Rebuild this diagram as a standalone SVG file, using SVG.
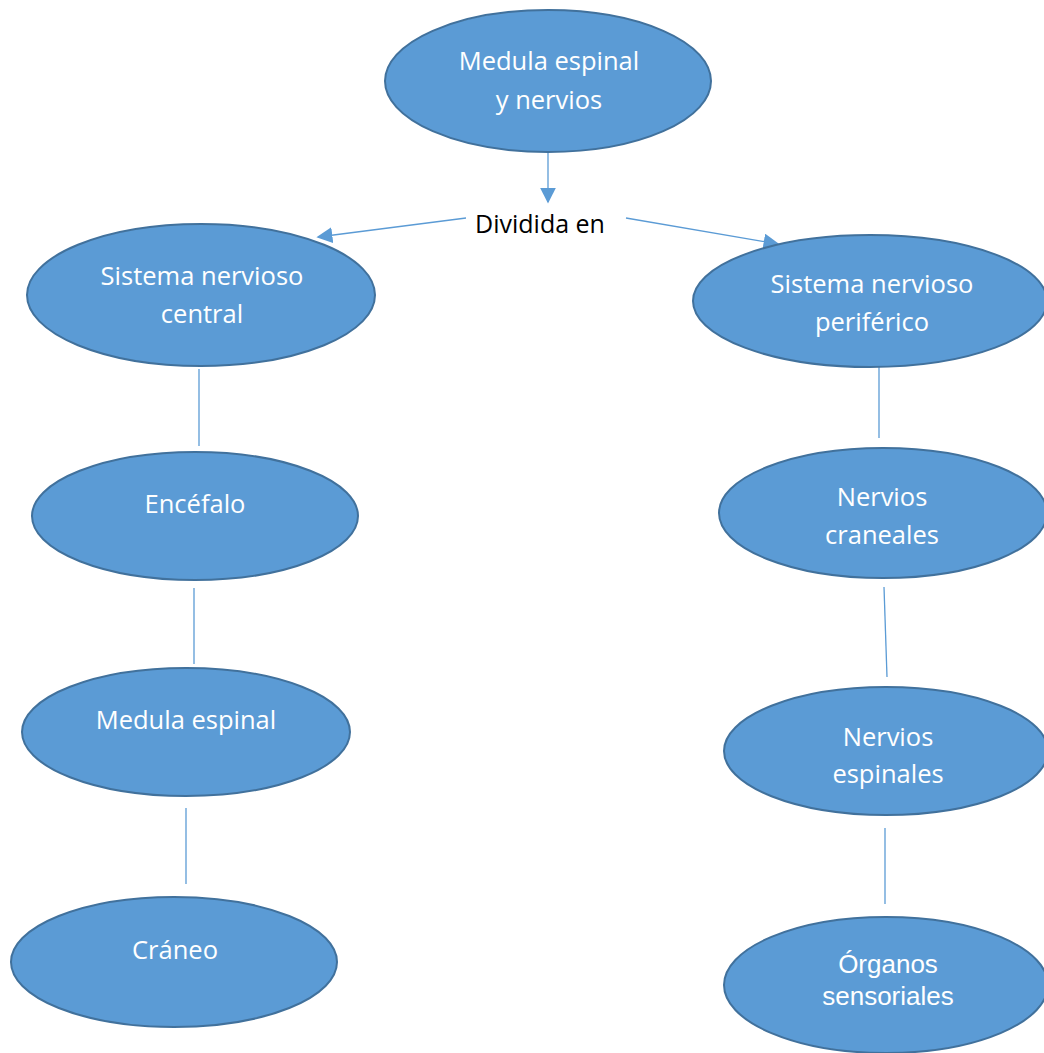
<svg xmlns="http://www.w3.org/2000/svg" width="1044" height="1053" viewBox="0 0 1044 1053">
<style>
.node ellipse{fill:#5B9BD5;stroke:#41719C;stroke-width:2}
.node text{fill:#FFFFFF;font-family:"Open Sans","Liberation Sans",sans-serif;font-size:25.5px;text-anchor:middle}
.node text.arial{font-family:"Liberation Sans",Arial,sans-serif;font-size:26px}
.conn line{stroke:#5B9BD5;stroke-width:1.3;fill:none}
.label{fill:#000000;font-family:"Open Sans","Liberation Sans",sans-serif;font-size:25px;text-anchor:middle}
</style>
<defs>
<marker id="arrL" viewBox="0 0 10 10" refX="9" refY="5" markerWidth="16" markerHeight="16" markerUnits="userSpaceOnUse" orient="auto">
<path d="M0,0 L10,5 L0,10 Z" fill="#5B9BD5"/>
</marker>
</defs>
<rect width="1044" height="1053" fill="#FFFFFF"/>
<g id="connectors" class="conn">
<line x1="548" y1="153" x2="548" y2="202" marker-end="url(#arrL)"/>
<line x1="466" y1="218" x2="318" y2="237" marker-end="url(#arrL)"/>
<line x1="626" y1="218" x2="778" y2="244" marker-end="url(#arrL)"/>
<line x1="199" y1="369" x2="199" y2="446"/>
<line x1="194" y1="588" x2="194" y2="664"/>
<line x1="186" y1="808" x2="186" y2="884"/>
<line x1="879" y1="366" x2="879" y2="438"/>
<line x1="884" y1="587" x2="887" y2="677"/>
<line x1="885" y1="828" x2="885" y2="904"/>
</g>
<text id="label-dividida" class="label" x="540" y="233">Dividida en</text>
<g id="node-medula-nervios" class="node">
<ellipse cx="548" cy="81" rx="163" ry="71"/>
<text x="549" y="70">Medula espinal</text>
<text x="549" y="109">y nervios</text>
</g>
<g id="node-snc" class="node">
<ellipse cx="201" cy="295" rx="174" ry="71"/>
<text x="202" y="285">Sistema nervioso</text>
<text x="202" y="323">central</text>
</g>
<g id="node-snp" class="node">
<ellipse cx="870" cy="301" rx="177" ry="66"/>
<text x="872" y="293">Sistema nervioso</text>
<text x="872" y="331">periférico</text>
</g>
<g id="node-encefalo" class="node">
<ellipse cx="195" cy="516" rx="163" ry="64"/>
<text x="195" y="513">Encéfalo</text>
</g>
<g id="node-medula" class="node">
<ellipse cx="186" cy="732" rx="164" ry="64"/>
<text x="186" y="729">Medula espinal</text>
</g>
<g id="node-craneo" class="node">
<ellipse cx="174" cy="962" rx="163" ry="65"/>
<text x="175" y="959">Cráneo</text>
</g>
<g id="node-craneales" class="node">
<ellipse cx="883" cy="513" rx="164" ry="65"/>
<text x="882" y="506">Nervios</text>
<text x="882" y="544">craneales</text>
</g>
<g id="node-espinales" class="node">
<ellipse cx="886" cy="751" rx="162" ry="64"/>
<text x="888" y="746">Nervios</text>
<text x="888" y="783">espinales</text>
</g>
<g id="node-organos" class="node">
<ellipse cx="886" cy="985" rx="162" ry="68"/>
<text class="arial" x="888" y="973">Órganos</text>
<text class="arial" x="888" y="1005">sensoriales</text>
</g>
</svg>
